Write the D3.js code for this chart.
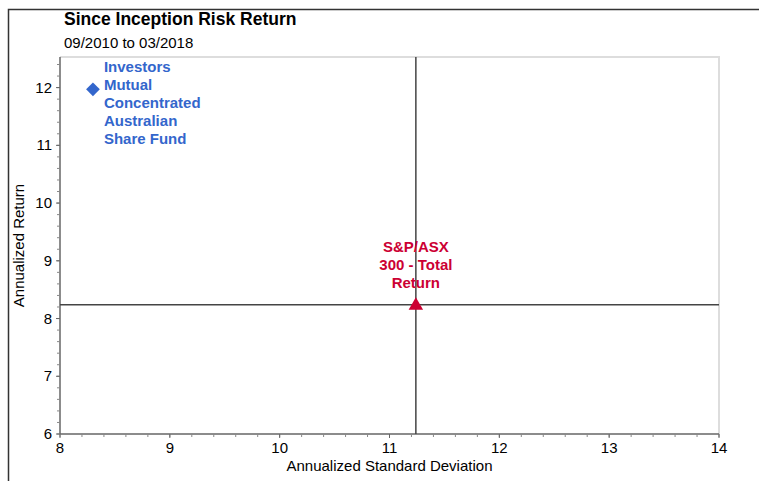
<!DOCTYPE html>
<html>
<head>
<meta charset="utf-8">
<script src="https://cdn.jsdelivr.net/npm/d3@7"></script>
<style>
  body { margin: 0; background: #fff; }
  text { font-family: "Liberation Sans", Arial, sans-serif; }
</style>
</head>
<body>
<script>
const width = 759;
const height = 481;

// data
const names = ["Investors Mutual Concentrated Australian Share Fund", "S&P/ASX 300 - Total Return"];
const stdDev = [8.30, 11.24];
const returns = [11.97, 8.24];
const labelLines = [["Investors", "Mutual", "Concentrated", "Australian", "Share Fund"], ["S&P/ASX", "300 - Total", "Return"]];
const colors = ["#3366cc", "#cc0033"];
const xTicks = [8, 9, 10, 11, 12, 13, 14];
const yTicks = [6, 7, 8, 9, 10, 11, 12];

const svg = d3.select("body").append("svg")
    .attr("width", width)
    .attr("height", height);

// outer frame (left + top)
svg.append("path")
    .attr("d", "M8.5,481V9.5H759")
    .attr("fill", "none")
    .attr("stroke", "#333")
    .attr("stroke-width", 1.5);

svg.append("text").attr("x", 64).attr("y", 25)
    .attr("font-size", 17.5).attr("font-weight", "bold")
    .text("Since Inception Risk Return");
svg.append("text").attr("x", 64).attr("y", 48)
    .attr("font-size", 15)
    .text("09/2010 to 03/2018");

const x = d3.scaleLinear().domain([8, 14]).range([60, 719]);
const y = d3.scaleLinear().domain([6, 12.53]).range([434, 57]);

// plot frame top/right (light)
svg.append("path")
    .attr("d", `M${x(8)},${y(12.53)}H${x(14)}V${y(6)}`)
    .attr("fill", "none")
    .attr("stroke", "#ddd")
    .attr("stroke-width", 2);

// minor ticks
const xMinor = d3.range(8, 14.001, 0.2);
const yMinor = d3.range(6, 12.53, 0.2);

const xAxis = svg.append("g").attr("transform", `translate(0,${y(6)})`);
xAxis.append("line").attr("x1", x(8)).attr("x2", x(14)).attr("stroke", "#666").attr("stroke-width", 1.5);
xAxis.selectAll(".minor").data(xMinor).enter().append("line")
    .attr("x1", d => x(d)).attr("x2", d => x(d)).attr("y1", 0).attr("y2", 3)
    .attr("stroke", "#888");
xAxis.selectAll(".major").data(xTicks).enter().append("line")
    .attr("x1", d => x(d)).attr("x2", d => x(d)).attr("y1", 0).attr("y2", 4)
    .attr("stroke", "#666");
xAxis.selectAll("text").data(xTicks).enter().append("text")
    .attr("x", d => x(d)).attr("y", 19)
    .attr("text-anchor", "middle").attr("font-size", 15)
    .text(d => d);

const yAxis = svg.append("g").attr("transform", `translate(${x(8)},0)`);
yAxis.append("line").attr("y1", y(6)).attr("y2", y(12.53)).attr("stroke", "#666").attr("stroke-width", 1.5);
yAxis.selectAll(".minor").data(yMinor).enter().append("line")
    .attr("y1", d => y(d)).attr("y2", d => y(d)).attr("x1", 0).attr("x2", -3)
    .attr("stroke", "#888");
yAxis.selectAll(".major").data(yTicks).enter().append("line")
    .attr("y1", d => y(d)).attr("y2", d => y(d)).attr("x1", 0).attr("x2", -4)
    .attr("stroke", "#666");
yAxis.selectAll("text").data(yTicks).enter().append("text")
    .attr("x", -8).attr("y", d => y(d) + 5)
    .attr("text-anchor", "end").attr("font-size", 15)
    .text(d => d);

svg.append("text")
    .attr("x", (x(8) + x(14)) / 2).attr("y", 471)
    .attr("text-anchor", "middle").attr("font-size", 15)
    .text("Annualized Standard Deviation");
svg.append("text")
    .attr("transform", `translate(24,${(y(6) + y(12.53)) / 2}) rotate(-90)`)
    .attr("text-anchor", "middle").attr("font-size", 15)
    .text("Annualized Return");

// crosshair at benchmark
svg.append("line")
    .attr("x1", x(stdDev[1])).attr("x2", x(stdDev[1]))
    .attr("y1", y(12.53)).attr("y2", y(6))
    .attr("stroke", "#444").attr("stroke-width", 1.5);
svg.append("line")
    .attr("x1", x(8)).attr("x2", x(14))
    .attr("y1", y(returns[1])).attr("y2", y(returns[1]))
    .attr("stroke", "#444").attr("stroke-width", 1.5);

// points
svg.append("path")
    .attr("transform", `translate(${x(stdDev[0])},${y(returns[0])})`)
    .attr("d", d3.symbol(d3.symbolDiamond2, 120)())
    .attr("fill", colors[0]);
svg.append("path")
    .attr("transform", `translate(${x(stdDev[1])},${y(returns[1]) + 1})`)
    .attr("d", d3.symbol(d3.symbolTriangle, 90)())
    .attr("fill", colors[1]);

// labels
const fundLabel = svg.append("text")
    .attr("font-size", 15).attr("font-weight", "bold").attr("fill", colors[0]);
labelLines[0].forEach((t, i) => {
    fundLabel.append("tspan").attr("x", x(stdDev[0]) + 11).attr("y", y(returns[0]) - 17 + i * 18).text(t);
});
const benchLabel = svg.append("text")
    .attr("font-size", 15).attr("font-weight", "bold").attr("fill", colors[1])
    .attr("text-anchor", "middle");
labelLines[1].forEach((t, i) => {
    benchLabel.append("tspan").attr("x", x(stdDev[1])).attr("y", y(returns[1]) - 53 + i * 18).text(t);
});
</script>
</body>
</html>
